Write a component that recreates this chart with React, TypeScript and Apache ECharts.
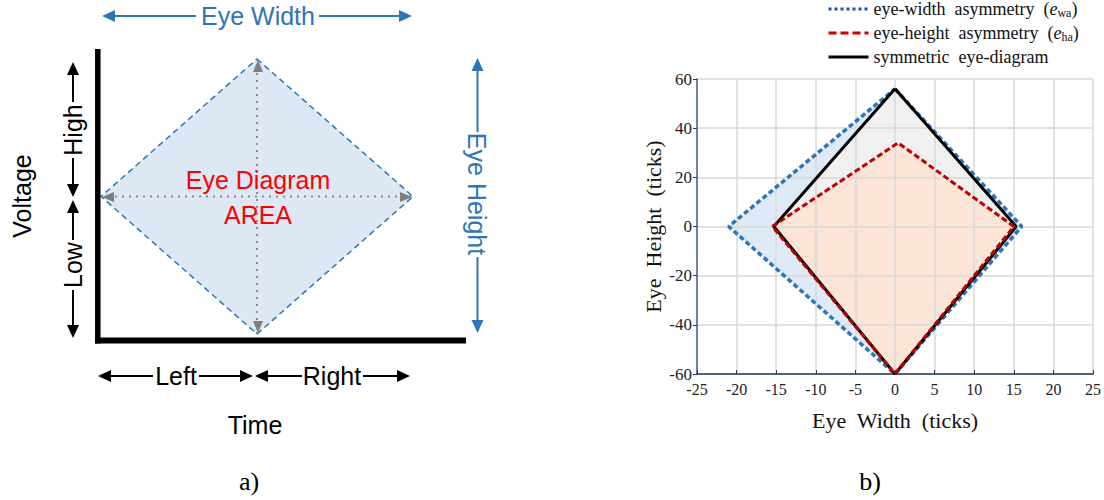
import React, { useEffect, useRef } from 'react';
import * as echarts from 'echarts';

// ---------- data ----------
const SCHEMATIC_DIAMOND = [[0, 1], [1, 0], [0, -1], [-1, 0], [0, 1]];
const SCHEMATIC_VLINE = [[0, 1], [0, -1]];
const SCHEMATIC_HLINE = [[-1, 0], [1, 0]];

const EWA_PTS = [[0, 56], [16, 0], [0, -60], [-21, 0], [0, 56]];
const SYM_PTS = [[0, 56], [15.3, 0], [0, -60], [-15.3, 0], [0, 56]];
const EHA_PTS = [[-15.5, 0], [0.4, 34], [15, 0], [0, -60], [-15.5, 0]];

const SERIES_NAMES = ['ewa', 'eha', 'sym'];
const LEGEND_LABELS: Record<string, string> = {
  ewa: '{t|eye-width  asymmetry  (}{i|e}{s|wa}{t|)}',
  eha: '{t|eye-height  asymmetry  (}{i|e}{s|ha}{t|)}',
  sym: '{t|symmetric  eye-diagram}',
};

const X_NAME = 'Eye  Width  (ticks)';
const Y_NAME = 'Eye  Height  (ticks)';

const SANS = "'Liberation Sans', Arial, sans-serif";
const SERIF = "'Liberation Serif', 'Times New Roman', serif";
const BLUE = '#2e75b6';
const RED = '#c00000';

// ---------- helpers ----------
function line(x1: number, y1: number, x2: number, y2: number, color: string, w = 2) {
  return { type: 'line', z: 10, shape: { x1, y1, x2, y2 }, style: { stroke: color, lineWidth: w } };
}
function tri(x: number, y: number, dir: string, color: string, len = 13, hw = 6) {
  let pts: number[][] = [];
  if (dir === 'up') pts = [[x, y], [x - hw, y + len], [x + hw, y + len]];
  if (dir === 'down') pts = [[x, y], [x - hw, y - len], [x + hw, y - len]];
  if (dir === 'left') pts = [[x, y], [x + len, y - hw], [x + len, y + hw]];
  if (dir === 'right') pts = [[x, y], [x - len, y - hw], [x - len, y + hw]];
  return { type: 'polygon', z: 10, shape: { points: pts }, style: { fill: color } };
}
function txt(x: number, y: number, text: string, color: string, size: number, font: string, rotation = 0) {
  return {
    type: 'text', z: 10, x, y, rotation,
    style: { text, fill: color, fontSize: size, fontFamily: font, align: 'center', verticalAlign: 'middle' },
  };
}

function polygonSeries(pts: number[][], idx: number, fill: string, z: number, stroke?: string, lw = 0, dash?: number[]) {
  return {
    type: 'custom',
    xAxisIndex: idx,
    yAxisIndex: idx,
    z,
    silent: true,
    clip: false,
    data: pts,
    renderItem: (params: any, api: any) => {
      if (params.dataIndex !== 0) return null;
      const points = pts.map((p) => api.coord(p));
      return {
        type: 'polygon',
        shape: { points },
        style: { fill, stroke: stroke || 'none', lineWidth: lw, lineDash: dash },
      };
    },
  };
}

export default function App() {
  const ref = useRef<HTMLDivElement>(null);
  useEffect(() => {
    const chart = echarts.init(ref.current!, null, { renderer: 'svg' });
    const graphic: any[] = [
      // axes of schematic
      line(97.8, 49, 97.8, 343.5, '#000', 5.5),
      line(95, 340.5, 466, 340.5, '#000', 6),
      // Eye Width
      txt(258, 16, 'Eye Width', BLUE, 25, SANS),
      line(112, 16, 196, 16, BLUE, 2),
      line(319, 16, 402, 16, BLUE, 2),
      tri(102, 16, 'left', BLUE),
      tri(412, 16, 'right', BLUE),
      // Eye Height
      txt(477, 194, 'Eye Height', BLUE, 25, SANS, -Math.PI / 2),
      line(477.5, 68, 477.5, 132, BLUE, 2),
      line(477.5, 257, 477.5, 323, BLUE, 2),
      tri(477.5, 58, 'up', BLUE),
      tri(477.5, 333, 'down', BLUE),
      // Voltage
      txt(22, 196, 'Voltage', '#000', 25, SANS, Math.PI / 2),
      // High
      txt(73, 130, 'High', '#000', 25, SANS, Math.PI / 2),
      line(73, 72, 73, 102, '#000', 2),
      line(73, 158, 73, 187, '#000', 2),
      tri(73, 62, 'up', '#000'),
      tri(73, 197, 'down', '#000'),
      // Low
      txt(73, 265, 'Low', '#000', 25, SANS, Math.PI / 2),
      line(73, 210, 73, 240, '#000', 2),
      line(73, 290, 73, 328, '#000', 2),
      tri(73, 200, 'up', '#000'),
      tri(73, 338, 'down', '#000'),
      // Left / Right
      txt(176, 376, 'Left', '#000', 25, SANS),
      line(108, 376, 153, 376, '#000', 2),
      line(199, 376, 243, 376, '#000', 2),
      tri(98, 376, 'left', '#000'),
      tri(253, 376, 'right', '#000'),
      txt(332, 376, 'Right', '#000', 25, SANS),
      line(265, 376, 302, 376, '#000', 2),
      line(363, 376, 400, 376, '#000', 2),
      tri(255, 376, 'left', '#000'),
      tri(410, 376, 'right', '#000'),
      txt(255, 425, 'Time', '#000', 25, SANS),
      // grey arrowheads
      tri(258, 60, 'up', '#7f7f7f', 12, 5),
      tri(258, 333, 'down', '#7f7f7f', 12, 5),
      tri(102, 197, 'left', '#7f7f7f', 12, 5),
      tri(412, 197, 'right', '#7f7f7f', 12, 5),
      // area label
      txt(258, 180, 'Eye Diagram', '#ff0000', 25, SANS),
      txt(258, 215, 'AREA', '#ff0000', 25, SANS),
      // panel labels
      txt(249, 481, 'a)', '#000', 26, SERIF),
      txt(870, 481, 'b)', '#000', 26, SERIF),
    ];

    const axisCommon = {
      type: 'value',
      gridIndex: 1,
      splitLine: { show: true, lineStyle: { color: '#d9d9d9', width: 1.5 } },
      nameLocation: 'middle',
      nameTextStyle: { fontFamily: SERIF, fontSize: 22, color: '#111' },
    };

    const option: any = {
      animation: false,
      backgroundColor: '#fff',
      graphic,
      grid: [
        { left: 101, top: 59, width: 312, height: 275, show: false },
        { left: 697, top: 79, width: 396, height: 295, show: false },
      ],
      xAxis: [
        { type: 'value', gridIndex: 0, min: -1, max: 1, show: false },
        {
          ...axisCommon, min: -25, max: 25, interval: 5, name: X_NAME, nameGap: 35,
          axisLine: { show: true, onZero: false, lineStyle: { color: '#1f3864', width: 1.5 } },
          axisTick: { show: true, inside: true, length: 4, lineStyle: { color: '#1f3864' } },
          axisLabel: { color: '#222', fontFamily: SERIF, fontSize: 16, margin: 7 },
        },
      ],
      yAxis: [
        { type: 'value', gridIndex: 0, min: -1, max: 1, show: false },
        {
          ...axisCommon, min: -60, max: 60, interval: 20, name: Y_NAME, nameGap: 33,
          axisLine: { show: true, onZero: false, lineStyle: { color: '#4a5f94', width: 1.5 } },
          axisTick: { show: true, inside: false, length: 4, lineStyle: { color: '#1f3864' } },
          axisLabel: { color: '#222', fontFamily: SERIF, fontSize: 17, margin: 5 },
        },
      ],
      legend: {
        orient: 'vertical',
        left: 822,
        top: -5,
        itemWidth: 40,
        itemHeight: 14,
        itemGap: 5,
        data: [
          { name: 'ewa', itemStyle: { opacity: 0 }, lineStyle: { color: '#1f4fbf', width: 3, type: [3, 3] } },
          { name: 'eha', itemStyle: { opacity: 0 }, lineStyle: { color: '#d00000', width: 3, type: [8, 4] } },
          { name: 'sym', itemStyle: { opacity: 0 }, lineStyle: { color: '#000', width: 3 } },
        ],
        formatter: (n: string) => LEGEND_LABELS[n],
        textStyle: {
          fontFamily: SERIF,
          fontSize: 18,
          color: '#111',
          rich: {
            t: { fontFamily: SERIF, fontSize: 18, color: '#111', lineHeight: 20 },
            i: { fontFamily: SERIF, fontSize: 18, color: '#111', fontStyle: 'italic', lineHeight: 20 },
            s: { fontFamily: SERIF, fontSize: 12, color: '#111', verticalAlign: 'bottom', lineHeight: 12 },
          },
        },
      },
      series: [
        polygonSeries(SCHEMATIC_DIAMOND, 0, '#dde8f4', 2, BLUE, 1.5, [6, 4]),
        {
          type: 'line', xAxisIndex: 0, yAxisIndex: 0, data: SCHEMATIC_VLINE, symbol: 'none', silent: true, z: 3,
          lineStyle: { color: '#8c8c8c', width: 2, type: [2, 5] },
        },
        {
          type: 'line', xAxisIndex: 0, yAxisIndex: 0, data: SCHEMATIC_HLINE, symbol: 'none', silent: true, z: 3,
          lineStyle: { color: '#8c8c8c', width: 2, type: [2, 5] },
        },
        polygonSeries(EWA_PTS, 1, '#deebf7', -1),
        polygonSeries(SYM_PTS, 1, '#f0f0f0', -1),
        polygonSeries(EHA_PTS, 1, '#fbe5d6', -1),
        {
          name: SERIES_NAMES[0], type: 'line', xAxisIndex: 1, yAxisIndex: 1, data: EWA_PTS, symbol: 'none', z: 3,
          itemStyle: { color: BLUE },
          lineStyle: { color: BLUE, width: 3.5, type: [5, 3] },
        },
        {
          name: SERIES_NAMES[2], type: 'line', xAxisIndex: 1, yAxisIndex: 1, data: SYM_PTS, symbol: 'none', z: 4,
          itemStyle: { color: '#000' },
          lineStyle: { color: '#000', width: 3 },
        },
        {
          name: SERIES_NAMES[1], type: 'line', xAxisIndex: 1, yAxisIndex: 1, data: EHA_PTS, symbol: 'none', z: 5,
          itemStyle: { color: RED },
          lineStyle: { color: RED, width: 3, type: [6, 3] },
        },
      ],
    };
    chart.setOption(option);
    return () => chart.dispose();
  }, []);
  return <div ref={ref} style={{ position: 'absolute', left: 0, top: 0, width: 1104, height: 500 }} />;
}
